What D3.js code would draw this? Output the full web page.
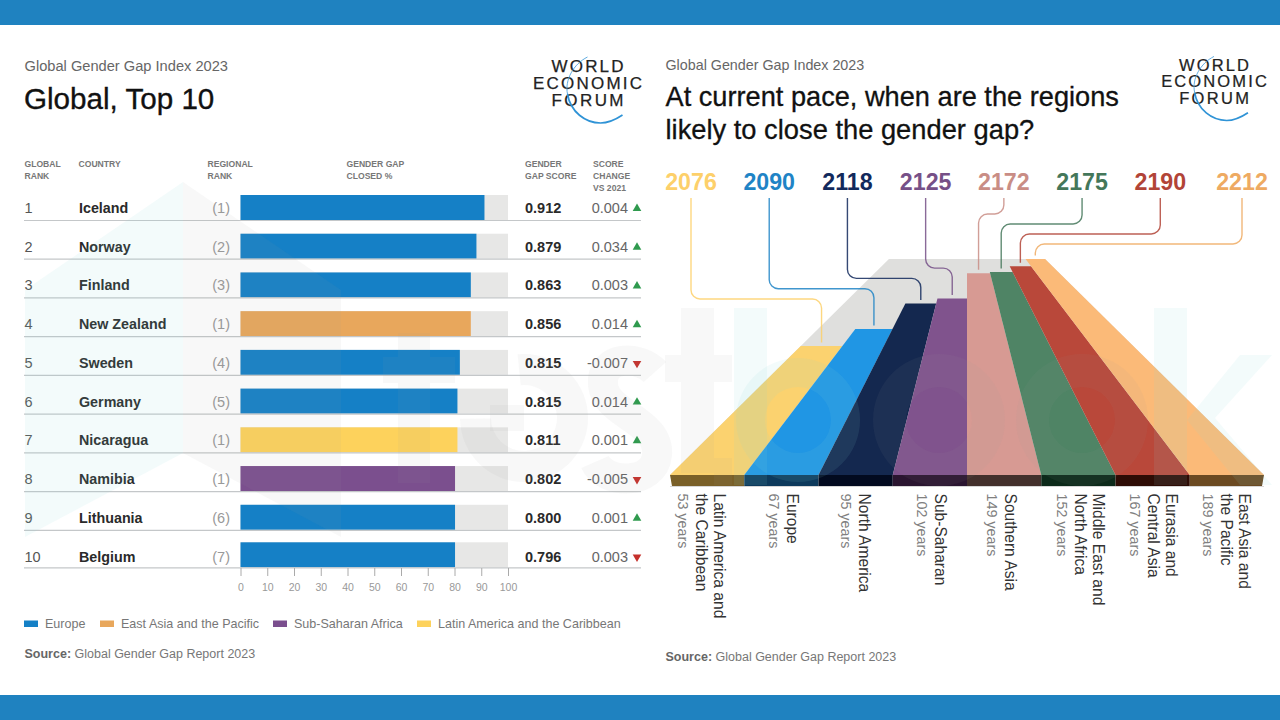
<!DOCTYPE html>
<html><head><meta charset="utf-8">
<script src="https://cdn.jsdelivr.net/npm/d3@7"></script>
<style>html,body{margin:0;background:#fff}svg{display:block}text{font-family:"Liberation Sans",Arial,sans-serif}</style>
</head><body><svg id="c" width="1280" height="720"></svg>
<script>
const countries=["Iceland","Norway","Finland","New Zealand","Sweden","Germany","Nicaragua","Namibia","Lithuania","Belgium"];
const globalRank=["1","2","3","4","5","6","7","8","9","10"];
const regionalRank=[1,2,3,1,4,5,1,1,6,7];
const closedPct=[91.2,88.2,86.1,86.1,82,81.1,81.1,80.2,80.2,80.2];
const scoreLabels=["0.912","0.879","0.863","0.856","0.815","0.815","0.811","0.802","0.800","0.796"];
const changeLabels=["0.004","0.034","0.003","0.014","-0.007","0.014","0.001","-0.005","0.001","0.003"];
const changeDir=["up","up","up","up","down","up","up","down","up","down"];
const barRegion=["Europe","Europe","Europe","East Asia and the Pacific","Europe","Europe","Latin America and the Caribbean","Sub-Saharan Africa","Europe","Europe"];
const legendNames=["Europe","East Asia and the Pacific","Sub-Saharan Africa","Latin America and the Caribbean"];
const legendColors=["#1580c6","#e8a75c","#7b4f8e","#fdd25c"];
const regionYears=[2076,2090,2118,2125,2172,2175,2190,2212];
const regionSpan=[53,67,95,102,149,152,167,189];
const regionLines=[["Latin America and","the Caribbean"],["Europe"],["North America"],["Sub-Saharan"],["Southern Asia"],["Middle East and","North Africa"],["Eurasia and","Central Asia"],["East Asia and","the Pacific"]];
const regionColors=["#fbd26f","#2096e4","#14284f","#80538d","#d79a93","#4f8465","#b9483a","#fbba78"];
const frontColors=["#7a6028","#0d3a5c","#020a1f","#2a1530","#43302c","#0c2a1a","#2e0c05","#6b4a22"];
const labelColors=["#fdd06a","#1f84c6","#12295c","#765087","#c98d85","#44775a","#b24437","#eeaa62"];

const svg=d3.select("#c");
const T=(g,x,y,s,size,fill,weight,anchor)=>g.append("text").attr("x",x).attr("y",y).text(s).attr("font-size",size).attr("fill",fill).attr("font-weight",weight||400).attr("text-anchor",anchor||"start");

svg.append("rect").attr("width",1280).attr("height",25).attr("fill","#1f82c0");
svg.append("rect").attr("y",695).attr("width",1280).attr("height",25).attr("fill","#1f82c0");

function logo(x,y,k){
  const g=svg.append("g").attr("transform",`translate(${x},${y}) scale(${k})`);
  [["WORLD",0,2.2],["ECONOMIC",17,2.2],["FORUM",34,2.4]].forEach(d=>{
    T(g,d[2]/2,d[1],d[0],17,"#222",400,"middle").attr("letter-spacing",d[2]).attr("stroke","#222").attr("stroke-width",.25);
  });
  g.append("path").attr("d","M0,-15 C-14,-8 -23,8 -20,22").attr("fill","none").attr("stroke","#4fa3dc").attr("stroke-width",.9);
  g.append("path").attr("d","M-20,22 C-17,40 -2,51 13,51 C22,51 29,47 35,43").attr("fill","none").attr("stroke","#2f93d6").attr("stroke-width",1.7);
}

// LEFT PANEL
const L=svg.append("g");
T(L,24.5,71,"Global Gender Gap Index 2023",14.65,"#666");
T(L,24,109,"Global, Top 10",29.6,"#111").attr("stroke","#111").attr("stroke-width",.35);
logo(587.5,72,1);
const H=(x,y,s)=>T(L,x,y,s,8.6,"#777",700);
H(24.5,167,"GLOBAL");H(24.5,179,"RANK");H(78.5,167,"COUNTRY");H(207.5,167,"REGIONAL");H(207.5,179,"RANK");
H(346.5,167,"GENDER GAP");H(346.5,179,"CLOSED %");H(525,167,"GENDER");H(525,179,"GAP SCORE");H(593,167,"SCORE");H(593,179,"CHANGE");H(593,191,"VS 2021");

const xPct=d3.scaleLinear().domain([0,100]).range([240.5,508]);
const yRow=d3.scalePoint().domain(countries).range([195,543.5]);
const nudge=d=>d=="Belgium"?-1.2:0;
const colorOf=d3.scaleOrdinal().domain(legendNames).range(legendColors);

const row=L.selectAll("g.row").data(countries).join("g").attr("class","row").attr("transform",d=>`translate(0,${yRow(d)})`);
row.append("rect").attr("x",xPct(0)).attr("y",nudge).attr("width",xPct(100)-xPct(0)).attr("height",25).attr("fill","#e7e7e6");
row.append("rect").attr("x",xPct(0)).attr("y",nudge).attr("width",(d,i)=>xPct(closedPct[i])-xPct(0)).attr("height",25).attr("fill",(d,i)=>colorOf(barRegion[i]));
row.append("line").attr("x1",24).attr("x2",641).attr("y1",d=>25.5+nudge(d)).attr("y2",d=>25.5+nudge(d)).attr("stroke","#c4c7c9").attr("stroke-width",1.2);
row.append("text").attr("x",24.5).attr("y",18).attr("font-size",14.5).attr("fill","#555").text((d,i)=>globalRank[i]);
row.append("text").attr("x",79).attr("y",18).attr("font-size",14.3).attr("font-weight",700).attr("fill","#2a2a2a").text(d=>d);
row.append("text").attr("x",230).attr("y",18).attr("text-anchor","end").attr("font-size",14.5).attr("fill","#999").text((d,i)=>`(${regionalRank[i]})`);
row.append("text").attr("x",525).attr("y",18).attr("font-size",14.5).attr("font-weight",700).attr("fill","#2a2a2a").text((d,i)=>scoreLabels[i]);
row.append("text").attr("x",628).attr("y",18).attr("text-anchor","end").attr("font-size",14.5).attr("fill","#666").text((d,i)=>changeLabels[i]);
row.append("path")
  .attr("d",d3.symbol(d3.symbolTriangle,32))
  .attr("transform",(d,i)=>`translate(637,13.5) rotate(${changeDir[i]=="up"?0:180})`)
  .attr("fill",(d,i)=>changeDir[i]=="up"?"#2f9a4e":"#c5302b");

const ax=L.append("g").attr("transform","translate(0,568)").call(d3.axisBottom(xPct).tickValues(d3.range(0,101,10)).tickSize(8).tickPadding(8));
ax.select(".domain").remove();
ax.selectAll("line").attr("stroke","#aaa");
ax.selectAll("text").attr("font-size",10.5).attr("fill","#999").attr("font-family",'"Liberation Sans",Arial,sans-serif');

const legX=d3.scaleOrdinal().domain(legendNames).range([24,100,273,417]);
const lg=L.selectAll("g.leg").data(legendNames).join("g").attr("class","leg").attr("transform",d=>`translate(${legX(d)},619)`);
lg.append("rect").attr("y",1.5).attr("width",14).attr("height",6.5).attr("fill",d=>colorOf(d));
lg.append("text").attr("x",21).attr("y",9).attr("font-size",12.55).attr("fill","#777").text(d=>d);
const src=T(L,24.5,658,"",12.5,"#777");
src.append("tspan").attr("font-weight",700).attr("fill","#666").text("Source:");
src.append("tspan").text(" Global Gender Gap Report 2023");

// RIGHT PANEL
const R=svg.append("g");
T(R,665.5,70,"Global Gender Gap Index 2023",14.3,"#666");
T(R,665.5,105.5,"At current pace, when are the regions",27.2,"#111").attr("stroke","#111").attr("stroke-width",.3);
T(R,665.5,139,"likely to close the gender gap?",27.3,"#111").attr("stroke","#111").attr("stroke-width",.3);
logo(1214,71,.97);
const src2=T(R,665.5,661,"",12.5,"#777");
src2.append("tspan").attr("font-weight",700).attr("fill","#666").text("Source:");
src2.append("tspan").text(" Global Gender Gap Report 2023");

// perspective road: the years left to close the gap set each band's depth along the road
const vanish={x:967,y:182}, front=475, frontH=11;
const xFront=d3.scalePoint().domain(d3.range(9)).range([670,1264]);
const depth=d3.scaleLinear().domain([0,189]).range([1/(front-vanish.y),1/77]);
const yAt=s=>vanish.y+1/depth(s);
const persp=(xb,y)=>vanish.x+(xb-vanish.x)*(y-vanish.y)/(front-vanish.y);
const topBack=yAt(d3.max(regionSpan));
R.append("path").attr("fill","#dfdfdd").attr("d",d3.line()([[xFront(0),front],[persp(xFront(0),topBack),topBack],[persp(xFront(8),topBack),topBack],[xFront(8),front]])+"Z");

const yrScale=d3.scalePoint().domain(regionYears).range([691,1238.5]);
const yrX=d=>yrScale(d)+(d==2212?3.5:0);
const band=R.selectAll("g.band").data(regionYears).join("g").attr("class","band");
band.append("path").attr("fill",(d,i)=>regionColors[i]).attr("d",(d,i)=>{
  const t=yAt(regionSpan[i]),a=xFront(i),b=xFront(i+1);
  return d3.line()([[a,front],[persp(a,t),t],[persp(b,t),t],[b,front]])+"Z";
});
band.append("path").attr("fill",(d,i)=>frontColors[i]).attr("d",(d,i)=>{
  const a=xFront(i),b=xFront(i+1),ia=i==0?2:0,ib=i==7?-2:0;
  return d3.line()([[a,front],[b,front],[b+ib,front+frontH],[a+ia,front+frontH]])+"Z";
});
band.append("path").attr("fill","none").attr("stroke",(d,i)=>labelColors[i]).attr("stroke-opacity",.85).attr("stroke-width",1.4).attr("d",(d,i)=>{
  const r=9,t=yAt(regionSpan[i]),xl=yrX(d),xe=persp((xFront(i)+xFront(i+1))/2,t);
  const elbow=i<4?299-i*10.3:214+(i-4)*10;
  const end=t-3.5, dir=Math.sign(xe-xl), sw=dir>0?0:1;
  return `M${xl},198V${elbow-r}A${r},${r} 0 0 ${sw} ${xl+dir*r},${elbow}H${xe-dir*r}A${r},${r} 0 0 ${1-sw} ${xe},${elbow+r}V${end}`;
});
band.append("text").attr("x",d=>yrX(d)).attr("y",190).attr("text-anchor","middle").attr("font-size",23.2).attr("font-weight",700).attr("fill",(d,i)=>labelColors[i]).text(d=>d);
R.append("line").attr("x1",670).attr("x2",1264).attr("y1",486.5).attr("y2",486.5).attr("stroke","#ccc").attr("stroke-width",.8);

// rotated labels: first line rightmost, years leftmost
const labelNudge=[-5,2.5,0,2,-2,2.5,1,0];
const lab=R.selectAll("g.lab").data(regionYears).join("g").attr("class","lab").attr("transform",(d,i)=>`translate(${(xFront(i)+xFront(i+1))/2+labelNudge[i]},493.5) rotate(90)`);
lab.each(function(d,i){
  const g=d3.select(this),ln=regionLines[i],n=ln.length,W=18*n+12,yb=W/2;
  ln.forEach((s,k)=>{
    g.append("text").attr("x",0).attr("y",yb-(n-k)*18).text(s).attr("font-size",15.6).attr("fill","#333");
  });
  g.append("text").attr("x",0).attr("y",yb).text(regionSpan[i]+" years").attr("font-size",14.3).attr("fill","#808080");
});

// faint watermark drawn over the artwork
const W=svg.append("g").attr("pointer-events","none");
const GR={fill:"#999",op:.07}, TE={fill:"#88d5d5",op:.1};
const poly=(pts,c)=>W.append("path").attr("d",d3.line()(pts)+"Z").attr("fill",c.fill).attr("fill-opacity",c.op);
const rct=(x,y,w,h,c)=>poly([[x,y],[x+w,y],[x+w,y+h],[x,y+h]],c);
const ring=(cx,cy,ro,ri,c,a0,a1)=>W.append("path").attr("transform",`translate(${cx},${cy})`)
  .attr("d",d3.arc()({innerRadius:ri,outerRadius:ro,startAngle:a0===undefined?0:a0,endAngle:a1===undefined?2*Math.PI:a1}))
  .attr("fill",c.fill).attr("fill-opacity",c.op);
poly([[183,182],[25,290],[25,537],[183,453]],TE);
poly([[183,182],[341,290],[341,537],[183,453]],GR);
rct(398,333,32,150,GR);rct(383,357,15,26,GR);rct(430,357,25,26,GR);
ring(524,418,64,33,GR,-0.1,4.7);rct(490,405,34,26,GR);
W.append("path").attr("d","M655,372 C640,355 600,355 603,385 C606,415 660,420 657,455 C654,485 605,485 595,462").attr("fill","none").attr("stroke","#999").attr("stroke-opacity",.07).attr("stroke-width",30);
rct(681,308,33,165,GR);rct(665,355,16,27,GR);rct(714,355,18,27,GR);rct(714,458,18,27,GR);
rct(734,308,33,177,TE);ring(798,420,62,33,TE,0,Math.PI*2);
ring(939,420,66,33,GR);
ring(1082,420,66,33,GR);
rct(1154,308,33,177,TE);
poly([[1187,420],[1240,355],[1272,355],[1215,418],[1272,485],[1240,485]],TE);
</script></body></html>
